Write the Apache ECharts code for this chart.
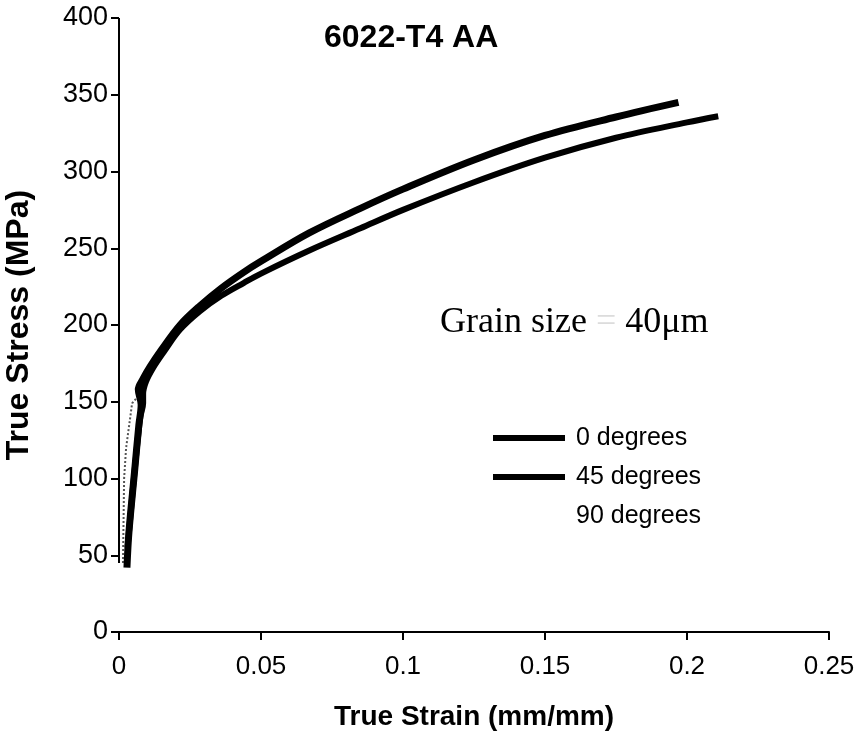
<!DOCTYPE html>
<html>
<head>
<meta charset="utf-8">
<script src="https://cdn.jsdelivr.net/npm/echarts@6/dist/echarts.min.js"></script>
<style>html,body{margin:0;padding:0;background:#fff;}#c{width:859px;height:734px;}</style>
</head>
<body>
<div id="c"></div>
<script>
// Data: [true strain, true stress MPa]
const seriesNames = ['0 degrees', '45 degrees', '90 degrees'];
const deg0 = [[0.0028,42],[0.0035,65],[0.0055,105],[0.007,135],[0.0078,148],[0.0068,158],[0.0085,165],[0.011,173],[0.015,184],[0.0215,200],[0.0285,212.5],[0.036,224],[0.044,234.5],[0.05,241.5],[0.067,260],[0.085,276],[0.1,288.5],[0.125,307.5],[0.15,323.5],[0.175,335.5],[0.197,345]];
const deg45 = [[0.003,55],[0.004,75],[0.0055,105],[0.0075,140],[0.0085,149],[0.0085,155],[0.0095,163],[0.012,172],[0.016,183],[0.0215,197],[0.0285,209],[0.036,219],[0.044,227.5],[0.05,233.5],[0.067,248.5],[0.085,263],[0.1,275],[0.125,293],[0.15,309],[0.175,322],[0.2,332],[0.211,336]];
const deg90 = [[0.0014,45],[0.0018,100],[0.0025,120],[0.0039,139],[0.0046,149],[0.006,152]];
const xTicks = {min:0, max:0.25, interval:0.05};
const yTicks = {min:0, max:400, interval:50};
const yAxisSpan = [[45,400],[-5,8]];
const titleText = '6022-T4 AA';
const noteParts = ['Grain size ', '=', ' 40μm'];
const xName = 'True Strain (mm/mm)';
const yName = 'True Stress (MPa)';

const chart = echarts.init(document.getElementById('c'), null, {renderer:'canvas'});
const font = 'Liberation Sans, Arial, sans-serif';
const serif = 'Liberation Serif, Times New Roman, serif';
chart.setOption({
  animation: false,
  backgroundColor: '#fff',
  title: [
    {text: titleText, left: 324, top: 22, padding: 0,
     textStyle: {fontFamily: font, fontSize: 32, fontWeight: 'bold', color: '#000'}},
    {text: '{a|' + noteParts[0] + '}{b|' + noteParts[1] + '}{a|' + noteParts[2] + '}', left: 440, top: 305, padding: 0,
     textStyle: {fontWeight: 'normal', rich: {
       a: {fontFamily: serif, fontSize: 36, fontWeight: 'normal', color: '#000'},
       b: {fontFamily: serif, fontSize: 36, fontWeight: 'normal', color: '#dcdcdc'}
     }}}
  ],
  legend: {
    orient: 'vertical', left: 493, top: 423, padding: 0,
    itemWidth: 72, itemHeight: 6, itemGap: 9, icon: 'rect',
    textStyle: {fontFamily: font, fontSize: 25, color: '#000', lineHeight: 30, padding: [0,0,0,6]},
    data: [
      {name: seriesNames[0]},
      {name: seriesNames[1]},
      {name: seriesNames[2], itemStyle: {color: 'rgba(0,0,0,0)', opacity: 0}}
    ]
  },
  grid: {left: 119, right: 30, top: 18, bottom: 102, containLabel: false, outerBoundsMode: 'none'},
  xAxis: {
    type: 'value', min: xTicks.min, max: xTicks.max, interval: xTicks.interval,
    name: xName, nameLocation: 'middle', nameGap: 71,
    nameTextStyle: {fontFamily: font, fontSize: 28, fontWeight: 'bold', color: '#000'},
    axisLine: {show: true, onZero: false, lineStyle: {color: '#000', width: 2}},
    axisTick: {show: true, inside: false, length: 8, lineStyle: {color: '#000', width: 2}},
    axisLabel: {fontFamily: font, fontSize: 26, color: '#000', margin: 22,
      formatter: v => String(+v.toFixed(2))},
    splitLine: {show: false}
  },
  yAxis: {
    type: 'value', min: yTicks.min, max: yTicks.max, interval: yTicks.interval,
    name: yName, nameLocation: 'middle', nameGap: 84, nameRotate: 90,
    nameTextStyle: {fontFamily: font, fontSize: 32, fontWeight: 'bold', color: '#000'},
    axisLine: {show: false},
    axisTick: {show: true, inside: false, length: 8, lineStyle: {color: '#000', width: 2}},
    axisLabel: {fontFamily: font, fontSize: 27, color: '#000', margin: 11},
    splitLine: {show: false}
  },
  series: [
    {name: seriesNames[0], type: 'line', data: deg0, showSymbol: false, symbol: 'none', smooth: 0.35,
     color: '#000', lineStyle: {color: '#000', width: 7}, z: 3},
    {name: seriesNames[1], type: 'line', data: deg45, showSymbol: false, symbol: 'none', smooth: 0.35,
     color: '#000', lineStyle: {color: '#000', width: 6}, z: 3,
     markLine: {symbol: 'none', silent: true, animation: false,
       label: {show: false}, lineStyle: {color: '#000', width: 2, type: 'solid'},
       emphasis: {disabled: true},
       data: yAxisSpan.map(s => [{coord: [0, s[0]]}, {coord: [0, s[1]]}])}},
    {name: seriesNames[2], type: 'line', data: deg90, showSymbol: false, symbol: 'none',
     color: '#888', lineStyle: {color: '#555', width: 2, type: 'dotted'}, z: 2}
  ]
});
</script>
</body>
</html>
